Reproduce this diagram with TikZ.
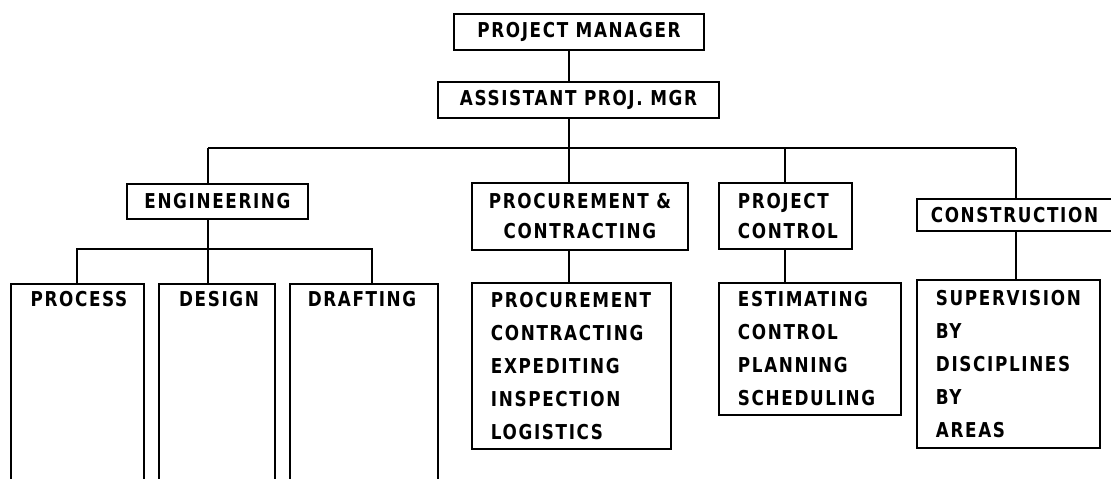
\documentclass[tikz,border=0pt]{standalone}
\usepackage{fontspec}
\newfontfamily\orgfont{DejaVu Sans}[FakeStretch=0.82,LetterSpace=8]
\hyphenpenalty=10000
\uchyph=0
\begin{document}
\begin{tikzpicture}[x=1pt,y=-1pt,line width=1.9pt,
  orgtext/.style={font=\orgfont\bfseries\fontsize{20.5}{30}\selectfont},
  cbox/.style={orgtext,draw,anchor=north west,inner sep=0pt,align=center},
  lbox/.style={orgtext,draw,anchor=north west,inner ysep=0pt,inner xsep=19pt,align=left},
  listfont/.style={font=\orgfont\bfseries\fontsize{20.5}{33}\selectfont}]
\useasboundingbox (0,0) rectangle (1111,479);
% top
\node[cbox,minimum width=250pt,minimum height=36pt] (pm) at (453,13) {PROJECT MANAGER};
\node[cbox,minimum width=281pt,minimum height=36pt] (apm) at (437,81) {ASSISTANT PROJ. MGR};
% second level
\node[cbox,minimum width=181pt,minimum height=35pt] (eng) at (126,183) {ENGINEERING};
\node[cbox,minimum width=216pt,minimum height=67pt] (pc) at (471,182) {PROCUREMENT \&\\CONTRACTING};
\node[lbox,text width=95pt,minimum height=66pt] (ctl) at (718,182) {PROJECT\\CONTROL};
\node[cbox,minimum width=195pt,minimum height=32pt] (con) at (916,198) {CONSTRUCTION};
% third level
\node[lbox,listfont,text width=161pt,minimum height=166pt] (pl) at (471,282)
  {PROCUREMENT\\CONTRACTING\\EXPEDITING\\INSPECTION\\LOGISTICS};
\node[lbox,listfont,text width=144pt,minimum height=132pt] (el) at (718,282)
  {ESTIMATING\\CONTROL\\PLANNING\\SCHEDULING};
\node[lbox,listfont,text width=145pt,minimum height=168pt] (sl) at (916,279)
  {SUPERVISION\\BY\\DISCIPLINES\\BY\\AREAS};
% engineering sub-boxes (open at bottom)
\draw (11,479) |- (144,284) -- (144,479);
\draw (159,479) |- (275,284) -- (275,479);
\draw (290,479) |- (438,284) -- (438,479);
\node[orgtext] (process) at (79,299) {PROCESS};
\node[orgtext] (design) at (219,299) {DESIGN};
\node[orgtext] (drafting) at (362,299) {DRAFTING};
\coordinate (procT) at (77,284);
\coordinate (desT) at (208,284);
\coordinate (draT) at (372,284);
% bus coordinates
\coordinate (bE) at (208,148);
\coordinate (bP) at (569,148);
\coordinate (bC) at (785,148);
\coordinate (bK) at (1016,148);
% connectors
\draw (pm.south -| bP) -- (apm.north -| bP);
\draw (apm.south -| bP) -- (bP);
\draw (bE) -- (bK);
\draw (bE) -- (eng.north -| bE);
\draw (bP) -- (pc.north -| bP);
\draw (bC) -- (ctl.north -| bC);
\draw (bK) -- (con.north -| bK);
\draw (pc.south -| bP) -- (pl.north -| bP);
\draw (ctl.south -| bC) -- (el.north -| bC);
\draw (con.south -| bK) -- (sl.north -| bK);
\draw (eng.south -| bE) -- (desT);
\draw (procT) -- (77,249) -- (372,249) -- (draT);
\end{tikzpicture}
\end{document}
